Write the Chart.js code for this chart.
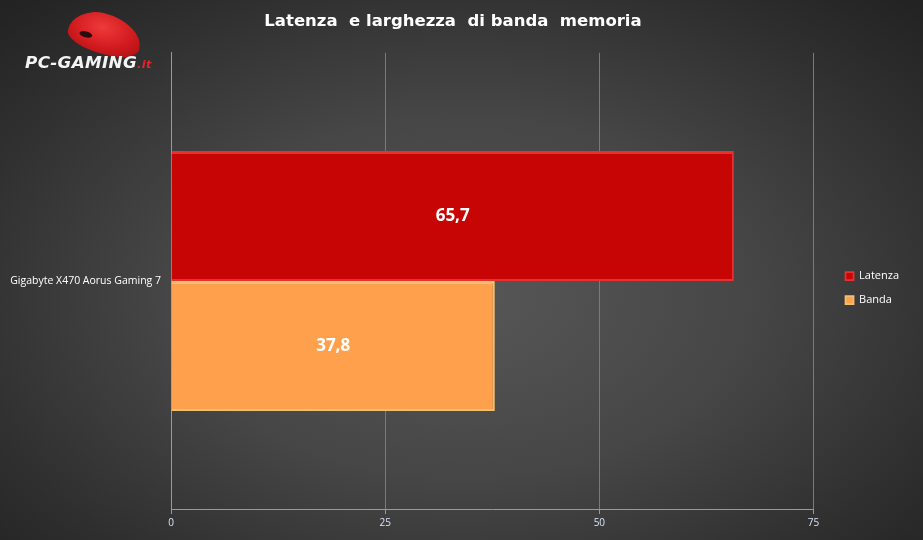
<!DOCTYPE html>
<html>
<head>
<meta charset="utf-8">
<script src="https://cdn.jsdelivr.net/npm/chart.js@4"></script>
<style>
  html, body { margin: 0; padding: 0; }
  body {
    width: 923px; height: 540px; overflow: hidden;
    background: radial-gradient(ellipse 70% 75% at 50% 55%, #575757 0%, #464646 45%, #2f2f2f 80%, #232323 100%);
    font-family: "Open Sans", sans-serif;
  }
  #memChart { position: absolute; left: 0; top: 0; }
  .logo { position: absolute; left: 24px; top: 6px; width: 170px; height: 70px; }
  .logo .mouse {
    position: absolute; left: 44px; top: 8px; width: 74px; height: 40px;
    background: radial-gradient(ellipse at 45% 35%, #ef3a3a, #d01a1e 55%, #a30f12);
    border-radius: 45% 60% 40% 55% / 65% 70% 35% 40%;
    transform: rotate(14deg);
  }
  .logo .mouse::after {
    content: ""; position: absolute; left: 12px; top: 22px; width: 13px; height: 6px;
    background: #2a0a0a; border-radius: 50%;
  }
  .logo .txt {
    position: absolute; left: 1px; top: 47px;
    font: italic 900 16px "DejaVu Sans", sans-serif; color: #f4f4f4;
    letter-spacing: 0.3px; white-space: nowrap; transform: scaleX(1.05); transform-origin: left;
  }
  .logo .txt span { color: #e0262a; font-size: 11px; }
</style>
</head>
<body>
<canvas id="memChart" width="923" height="540"></canvas>
<div class="logo"><div class="mouse"></div><div class="txt">PC-GAMING<span>.it</span></div></div>
<script>
  // data
  const boards = ["Gigabyte X470 Aorus Gaming 7"];
  const latenza = [65.7];
  const banda = [37.8];
  const xTicks = [0, 25, 50, 75];

  // writes the values inside the bars, comma as decimal mark
  const barLabels = {
    id: "barLabels",
    afterDatasetsDraw(chart) {
      const ctx = chart.ctx;
      ctx.save();
      ctx.font = "bold 17px 'Open Sans', sans-serif";
      ctx.fillStyle = "#ffffff";
      ctx.textAlign = "center";
      ctx.textBaseline = "middle";
      chart.data.datasets.forEach((ds, i) => {
        chart.getDatasetMeta(i).data.forEach((bar, j) => {
          const txt = ds.data[j].toFixed(1).replace(".", ",");
          ctx.fillText(txt, (bar.base + bar.x) / 2, bar.y);
        });
      });
      ctx.restore();
    },
  };

  // nudges legend and title to where the original has them
  const boxShift = {
    id: "boxShift",
    afterLayout(chart) {
      const lg = chart.legend;
      lg.left += 19;
      lg.right += 19;
      lg.top += 22;
      lg.bottom += 22;
      const tb = chart.titleBlock;
      tb.left += 8;
      tb.right += 8;
    },
  };

  const ctx = document.getElementById("memChart").getContext("2d");
  new Chart(ctx, {
    type: "bar",
    data: {
      labels: boards,
      datasets: [
        {
          label: "Latenza",
          data: latenza,
          backgroundColor: "#c80505",
          borderColor: "#e83030",
          borderWidth: { top: 3, left: 0, right: 2, bottom: 2 },
          borderSkipped: false,
        },
        {
          label: "Banda",
          data: banda,
          backgroundColor: "#ffa04d",
          borderColor: "#f0c070",
          borderWidth: { top: 3, left: 0, right: 2, bottom: 2 },
          borderSkipped: false,
        },
      ],
    },
    options: {
      indexAxis: "y",
      responsive: false,
      animation: false,
      devicePixelRatio: 1,
      layout: { padding: { left: 0, right: 33, top: 0, bottom: 8 } },
      categoryPercentage: 0.57,
      barPercentage: 1.0,
      scales: {
        x: {
          min: 0,
          max: 75,
          afterBuildTicks: (scale) => {
            scale.ticks = xTicks.map((v) => ({ value: v }));
          },
          grid: {
            color: "#7a7a7a",
            drawTicks: true,
            tickLength: 5,
            tickColor: "#9a9a9a",
          },
          border: { color: "#9a9a9a", width: 1 },
          ticks: {
            color: "#d8e4f4",
            font: { size: 10, family: "'Open Sans', sans-serif" },
            padding: 3,
          },
        },
        y: {
          afterFit: (scale) => {
            scale.width = 171;
          },
          grid: { display: false, drawTicks: false },
          border: { color: "#9a9a9a", width: 1 },
          ticks: {
            color: "#ffffff",
            font: { size: 10.5, family: "'Open Sans', sans-serif" },
            padding: 10,
          },
        },
      },
      plugins: {
        title: {
          display: true,
          text: "Latenza  e larghezza  di banda  memoria",
          color: "#ffffff",
          font: { size: 16.5, weight: "bold", family: "'DejaVu Sans', sans-serif" },
          padding: { top: 12, bottom: 21 },
        },
        legend: {
          position: "right",
          labels: {
            color: "#ffffff",
            font: { size: 11, family: "'Open Sans', sans-serif" },
            boxWidth: 8,
            boxHeight: 8,
            padding: 13,
          },
        },
        tooltip: { enabled: false },
      },
    },
    plugins: [barLabels, boxShift],
  });
</script>
</body>
</html>
